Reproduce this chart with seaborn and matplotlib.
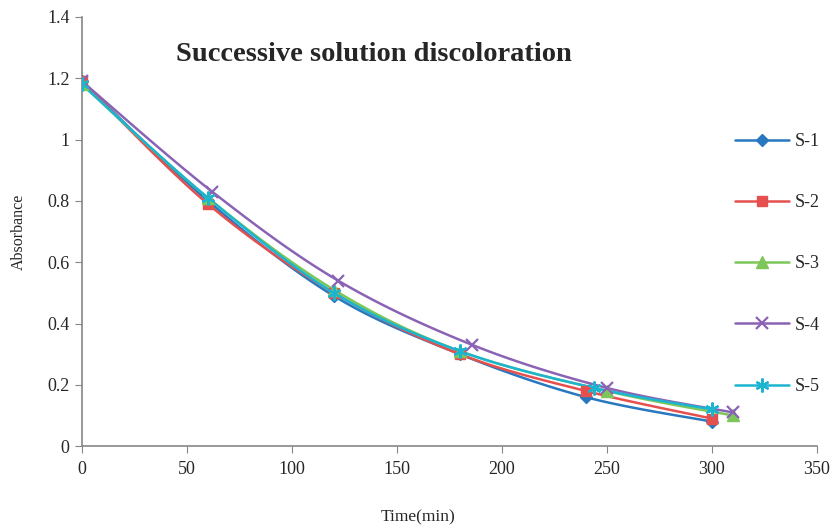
import numpy as np
import pandas as pd
import matplotlib
matplotlib.use("Agg")
import matplotlib.pyplot as plt
from matplotlib.lines import Line2D
import seaborn as sns

series = ["S-1", "S-2", "S-3", "S-4", "S-5"]
time_s1 = [0, 60, 120, 180, 240, 300]
abs_s1 = [1.19, 0.80, 0.49, 0.30, 0.16, 0.08]
time_s2 = [0, 60, 120, 180, 240, 300]
abs_s2 = [1.19, 0.79, 0.50, 0.30, 0.18, 0.09]
time_s3 = [0, 60, 120, 180, 250, 310]
abs_s3 = [1.18, 0.81, 0.51, 0.31, 0.18, 0.10]
time_s4 = [0, 62, 122, 186, 250, 310]
abs_s4 = [1.19, 0.83, 0.54, 0.33, 0.19, 0.11]
time_s5 = [0, 60, 120, 180, 244, 300]
abs_s5 = [1.18, 0.81, 0.50, 0.31, 0.19, 0.12]

times = [time_s1, time_s2, time_s3, time_s4, time_s5]
values = [abs_s1, abs_s2, abs_s3, abs_s4, abs_s5]
colors = ["#2878C0", "#E5504F", "#7DC65A", "#8A63B5", "#1CB5D0"]
markers = ["D", "s", "^", "x", (6, 2, 0)]
msizes = [6, 7, 8, 8, 10]


def smooth(x, y, n=20):
    # Catmull-Rom style smoothing like Excel's "smoothed line"
    p = np.column_stack([x, y]).astype(float)
    p = np.vstack([p[0], p, p[-1]])
    out = []
    t = np.linspace(0, 1, n, endpoint=False)
    for i in range(1, len(p) - 2):
        p0, p1, p2, p3 = p[i - 1], p[i], p[i + 1], p[i + 2]
        for tt in t:
            out.append(0.5 * ((2 * p1) + (-p0 + p2) * tt
                              + (2 * p0 - 5 * p1 + 4 * p2 - p3) * tt ** 2
                              + (-p0 + 3 * p1 - 3 * p2 + p3) * tt ** 3))
    out.append(p[-2])
    out = np.array(out)
    return out[:, 0], out[:, 1]


rows = []
for name, x, y in zip(series, times, values):
    sx, sy = smooth(x, y)
    rows.append(pd.DataFrame({"time": sx, "absorbance": sy, "series": name}))
curves = pd.concat(rows, ignore_index=True)

sns.set_style("white")
plt.rcParams["font.family"] = ["Liberation Serif", "DejaVu Serif"]

fig = plt.figure(figsize=(8.36, 5.28), dpi=100)
ax = fig.add_axes([0.098, 0.155, 0.879, 0.813])

sns.lineplot(data=curves, x="time", y="absorbance", hue="series", palette=colors,
             units="series", estimator=None, sort=False, linewidth=1.8, legend=False, ax=ax)

handles = []
for name, x, y, c, m, s in zip(series, times, values, colors, markers, msizes):
    mew = 1.6 if m in ("x", (6, 2, 0)) else 1
    ax.plot(x, y, linestyle="none", marker=m, color=c, markersize=s,
            markeredgewidth=mew, zorder=3)
    handles.append(Line2D([], [], color=c, linewidth=1.8, marker=m, markersize=s,
                          markeredgewidth=mew))

ax.set_xlim(0, 350)
ax.set_ylim(0, 1.4)
ax.set_xticks(range(0, 351, 50))
ax.set_yticks([0, 0.2, 0.4, 0.6, 0.8, 1, 1.2, 1.4])
ax.set_yticklabels(["0", "0.2", "0.4", "0.6", "0.8", "1", "1.2", "1.4"])
for sp in ["top", "right"]:
    ax.spines[sp].set_visible(False)
for sp in ["left", "bottom"]:
    ax.spines[sp].set_color("#868686")
    ax.spines[sp].set_linewidth(1.2)
ax.tick_params(axis="both", direction="out", length=5, color="#868686", labelsize=13,
               left=True, bottom=True, pad=4)
ax.tick_params(axis="x", pad=6)

ax.set_xlabel("")
ax.set_ylabel("Absorbance", fontsize=11.5)
ax.yaxis.set_label_coords(-0.075, 0.5)
fig.text(0.5, 0.02, "Time(min)", fontsize=12.5, ha="center", va="center")

fig.text(0.447, 0.896, "Successive solution discoloration", fontsize=20.5,
         fontweight="bold", ha="center", va="center")

fig.legend(handles, series, loc="center left", bbox_to_anchor=(0.86, 0.5),
           frameon=False, fontsize=13, handlelength=3.0, labelspacing=2.45,
           handletextpad=0.3)

fig.savefig("out.png", dpi=100)
